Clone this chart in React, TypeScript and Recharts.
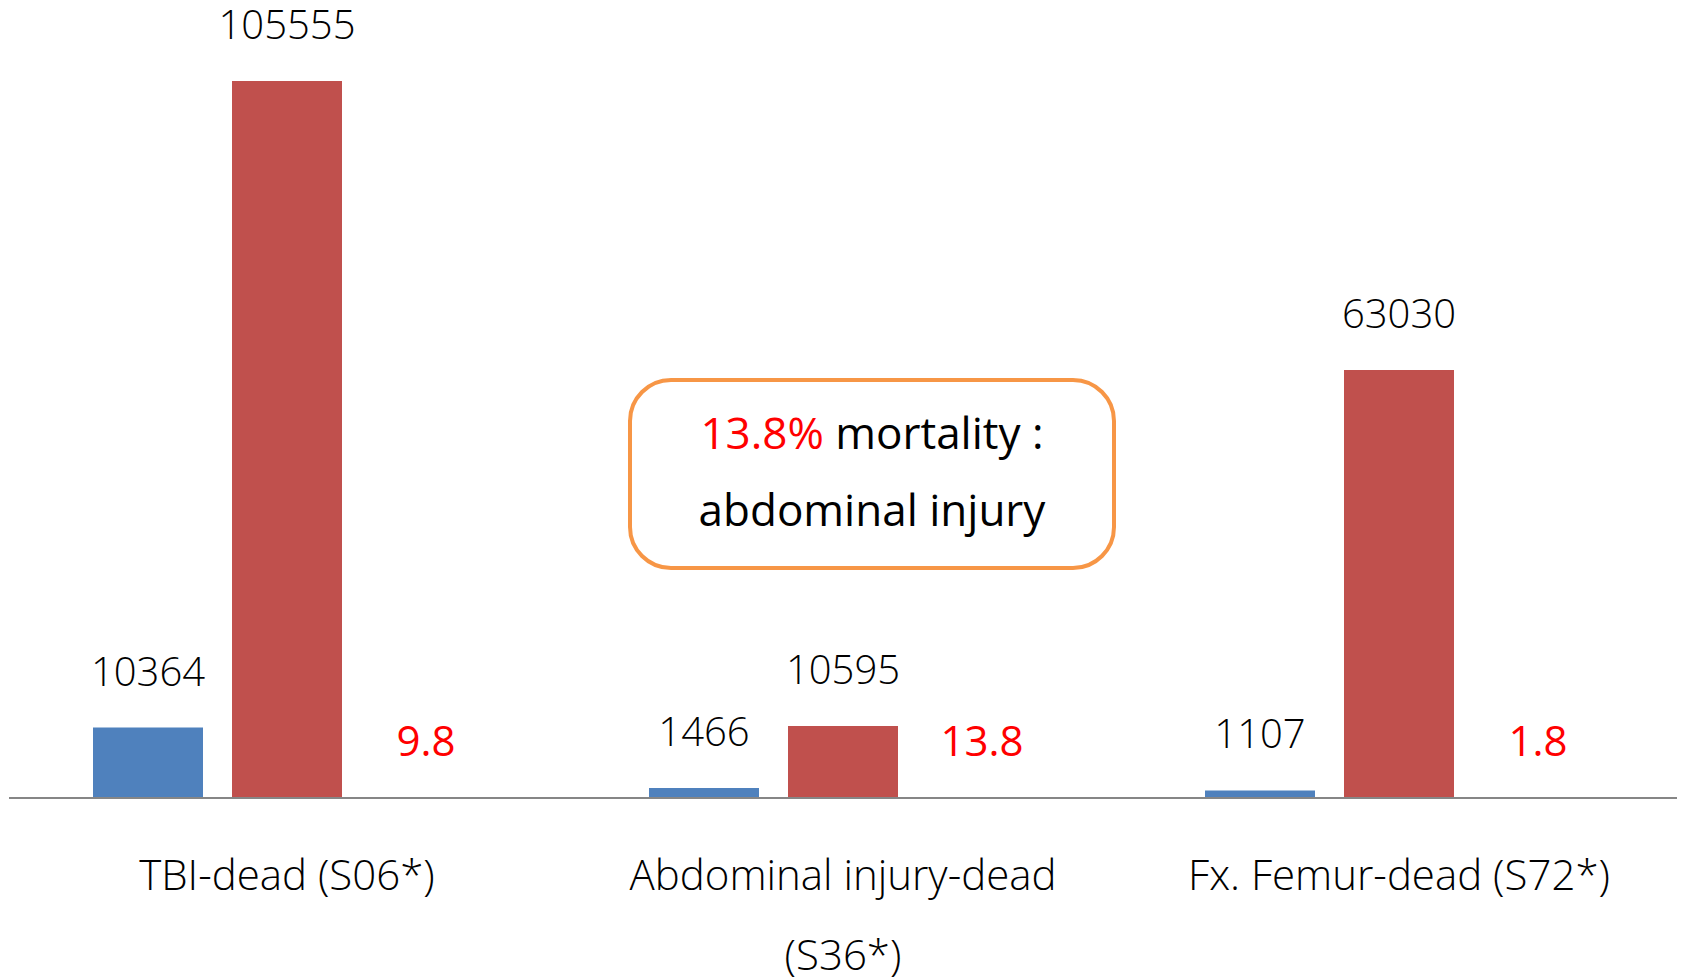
import { BarChart, Bar, XAxis, YAxis, LabelList } from "recharts"

const categories = ["TBI-dead (S06*)", "Abdominal injury-dead\n(S36*)", "Fx. Femur-dead (S72*)"]
const injured = [10364, 1466, 1107]
const dead = [105555, 10595, 63030]
const mortality = [9.8, 13.8, 1.8]

const data = categories.map((name, i) => ({
  name,
  injured: injured[i],
  dead: dead[i],
  mortality: mortality[i],
}))

const FONT = "'Open Sans', 'Noto Sans', sans-serif"

function CategoryTick(props: any) {
  const { x, y, payload } = props
  const lines = String(payload.value).split("\n")
  return (
    <text x={x} y={y} textAnchor="middle" fontFamily={FONT} fontSize={42} fontWeight={300} fill="#000">
      {lines.map((line, i) => (
        <tspan key={i} x={x} dy={i === 0 ? 84 : 80}>
          {line}
        </tspan>
      ))}
    </text>
  )
}

export default function App() {
  return (
    <div style={{ position: "absolute", left: 0, top: 0, width: 1683, height: 980, background: "#fff" }}>
      <BarChart
        width={1683}
        height={980}
        data={data}
        margin={{ top: 0, right: 6, bottom: 0, left: 9 }}
        barGap={29}
      >
        <XAxis
          dataKey="name"
          height={182}
          interval={0}
          tickLine={false}
          axisLine={{ stroke: "#868686", strokeWidth: 2 }}
          tick={<CategoryTick />}
        />
        <YAxis hide domain={[0, 117500]} />
        <Bar dataKey="injured" fill="#4F81BD" barSize={110} isAnimationActive={false}>
          <LabelList dataKey="injured" position="top" offset={42} fill="#000" fontSize={40} fontWeight={300} fontFamily={FONT} />
        </Bar>
        <Bar dataKey="dead" fill="#C0504D" barSize={110} isAnimationActive={false}>
          <LabelList dataKey="dead" position="top" offset={42} fill="#000" fontSize={40} fontWeight={300} fontFamily={FONT} />
        </Bar>
        <Bar dataKey="mortality" fill="transparent" barSize={110} isAnimationActive={false}>
          <LabelList dataKey="mortality" position="top" offset={42} fill="#FF0000" fontSize={42} fontWeight={500} fontFamily={FONT} />
        </Bar>
      </BarChart>
      <div
        style={{
          position: "absolute",
          left: 628,
          top: 378,
          width: 488,
          height: 192,
          boxSizing: "border-box",
          border: "4px solid #F79646",
          borderRadius: 43,
          display: "flex",
          flexDirection: "column",
          justifyContent: "center",
          alignItems: "center",
          paddingBottom: 7,
          fontFamily: FONT,
          fontSize: 44,
          fontWeight: 500,
          lineHeight: "77px",
          color: "#000",
        }}
      >
        <div>
          <span style={{ color: "#FF0000" }}>13.8%</span> mortality :
        </div>
        <div>abdominal injury</div>
      </div>
    </div>
  )
}
